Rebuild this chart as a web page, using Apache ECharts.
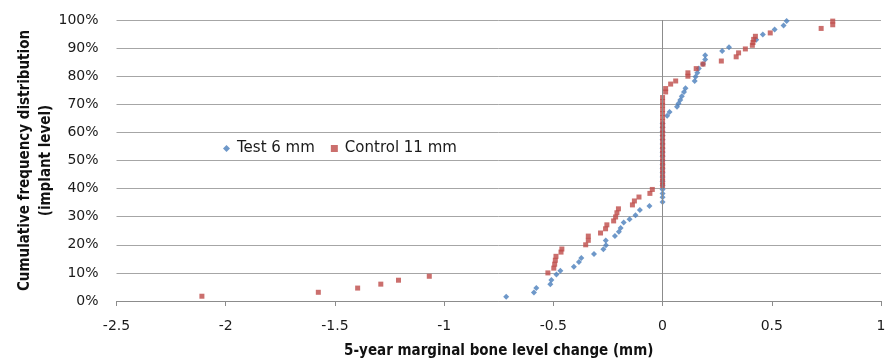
<!DOCTYPE html>
<html>
<head>
<meta charset="utf-8">
<script src="https://cdn.jsdelivr.net/npm/echarts@6/dist/echarts.min.js"></script>
<style>html,body{margin:0;padding:0;background:#fff;}#c{width:885px;height:360px;}</style>
</head>
<body>
<div id="c"></div>
<script>
var seriesNames = ['Test 6 mm', 'Control 11 mm'];
var xTitle = '5-year marginal bone level change (mm)';
var yTitle = 'Cumulative frequency distribution\n(implant level)';

var testX = [-0.716,-0.589,-0.578,-0.514,-0.509,-0.486,-0.468,-0.406,-0.383,-0.372,-0.314,-0.271,-0.259,-0.260,-0.218,-0.200,-0.192,-0.178,-0.151,-0.124,-0.104,-0.060,0,0,0,0,
  0,0,0,0,0,0,0,0,0,0,0,0,0,0,0,0,
  0.021,0.032,0.066,0.073,0.081,0.088,0.098,0.105,0.147,0.151,0.159,0.166,0.185,0.195,0.195,0.273,0.304,0.429,0.459,0.513,0.554,0.568];
var testY = [1.5,3.0,4.6,6.0,7.5,9.4,10.8,12.2,13.9,15.3,16.7,18.4,19.8,21.5,23.1,24.6,26.0,27.9,29.1,30.5,32.4,33.8,35.2,36.9,38.3,39.7,
  41.2,42.6,44.1,45.6,47.1,48.5,50.0,51.5,52.9,54.4,55.9,57.4,58.8,60.3,61.8,63.2,
  65.9,67.3,69.1,70.3,71.5,72.9,74.4,75.7,78.3,79.8,81.2,82.7,84.3,85.9,87.5,89.0,90.3,93.0,94.8,96.6,98.0,99.6];

var controlX = [-2.109,-1.576,-1.396,-1.290,-1.209,-1.068,
  -0.525,-0.498,-0.494,-0.491,-0.488,-0.465,-0.461,-0.352,-0.340,-0.340,-0.284,-0.261,-0.255,-0.224,-0.215,-0.209,-0.202,-0.138,-0.129,-0.108,-0.058,-0.047,
  0,0,0,0,0,0,0,0,0,0,0,0,0,0,0,0,0,0,0,0,0,0,0,
  0.014,0.014,0.037,0.060,0.116,0.116,0.154,0.185,0.269,0.337,0.348,0.379,0.411,0.414,0.417,0.425,0.493,0.726,0.779,0.779];
var controlY = [1.7,3.1,4.6,6.0,7.4,8.8,
  10.0,11.7,13.1,14.5,15.9,17.4,18.5,20.0,21.6,23.1,24.2,25.7,27.1,28.5,29.9,31.4,32.8,34.2,35.6,37.0,38.3,39.7,
  41.1,42.5,43.9,45.4,46.8,48.2,49.6,51.1,52.5,53.9,55.3,56.8,58.2,59.6,61.0,62.5,63.9,65.3,66.7,68.1,69.6,71.0,72.4,
  74.4,75.6,77.2,78.3,80.0,81.2,82.7,84.3,85.4,86.9,88.3,89.7,91.0,92.0,93.1,94.2,95.4,97.0,98.3,99.6];

var xTicks = {min: -2.5, max: 1, interval: 0.5};
var yTicks = {min: 0, max: 100, interval: 10};
var crossAt = 0;

function pairs(xs, ys) { return xs.map(function (x, i) { return [x, ys[i]]; }); }

var font = 'DejaVu Sans';
var titleFont = "'Liberation Sans Narrow', 'DejaVu Sans Condensed', sans-serif";
var chart = echarts.init(document.getElementById('c'), null, {renderer: 'canvas'});
chart.setOption({
  animation: false,
  backgroundColor: '#fff',
  grid: {left: 116.5, right: 4, top: 20, bottom: 59, outerBoundsMode: 'none', containLabel: false},
  legend: {
    left: 218, top: 136,
    itemWidth: 7, itemHeight: 7, itemGap: 16,
    textStyle: {fontFamily: font, fontSize: 15, color: '#1a1a1a', padding: [0, 0, 0, 2]},
    data: [{name: seriesNames[0], icon: 'diamond'}, {name: seriesNames[1], icon: 'rect'}]
  },
  xAxis: {
    type: 'value', min: xTicks.min, max: xTicks.max, interval: xTicks.interval,
    name: xTitle, nameLocation: 'middle', nameGap: 43, nameMoveOverlap: false,
    nameTextStyle: {fontFamily: titleFont, fontSize: 15, fontWeight: 'bold', color: '#111'},
    axisLine: {show: true, onZero: false, lineStyle: {color: '#8c8c8c', width: 1}},
    axisTick: {show: true, length: 5, lineStyle: {color: '#8c8c8c'}},
    axisLabel: {fontFamily: font, fontSize: 14, color: '#1a1a1a', margin: 18},
    splitLine: {show: false}
  },
  yAxis: {
    type: 'value', min: yTicks.min, max: yTicks.max, interval: yTicks.interval,
    name: yTitle, nameLocation: 'middle', nameGap: 60, nameRotate: 90, nameMoveOverlap: false,
    nameTextStyle: {fontFamily: titleFont, fontSize: 15, fontWeight: 'bold', color: '#111', lineHeight: 21},
    axisLine: {show: false},
    axisTick: {show: false},
    axisLabel: {fontFamily: font, fontSize: 14, color: '#1a1a1a', margin: 18, formatter: '{value}%'},
    splitLine: {show: true, lineStyle: {color: '#a6a6a6', width: 1}}
  },
  series: [{
    name: 'axis', type: 'scatter', z: 1, data: [], silent: true,
    markLine: {
      silent: true, symbol: 'none', animation: false,
      label: {show: false},
      lineStyle: {color: '#8c8c8c', width: 1, type: 'solid'},
      emphasis: {disabled: true},
      data: [{xAxis: crossAt}]
    }
  }, {
    name: seriesNames[0], type: 'scatter', symbol: 'diamond', symbolSize: 6, z: 3,
    itemStyle: {color: '#4a7ebb'},
    data: pairs(testX, testY)
  }, {
    name: seriesNames[1], type: 'scatter', symbol: 'rect', symbolSize: 5, z: 4,
    itemStyle: {color: '#be4b48'},
    data: pairs(controlX, controlY)
  }]
});
</script>
</body>
</html>
